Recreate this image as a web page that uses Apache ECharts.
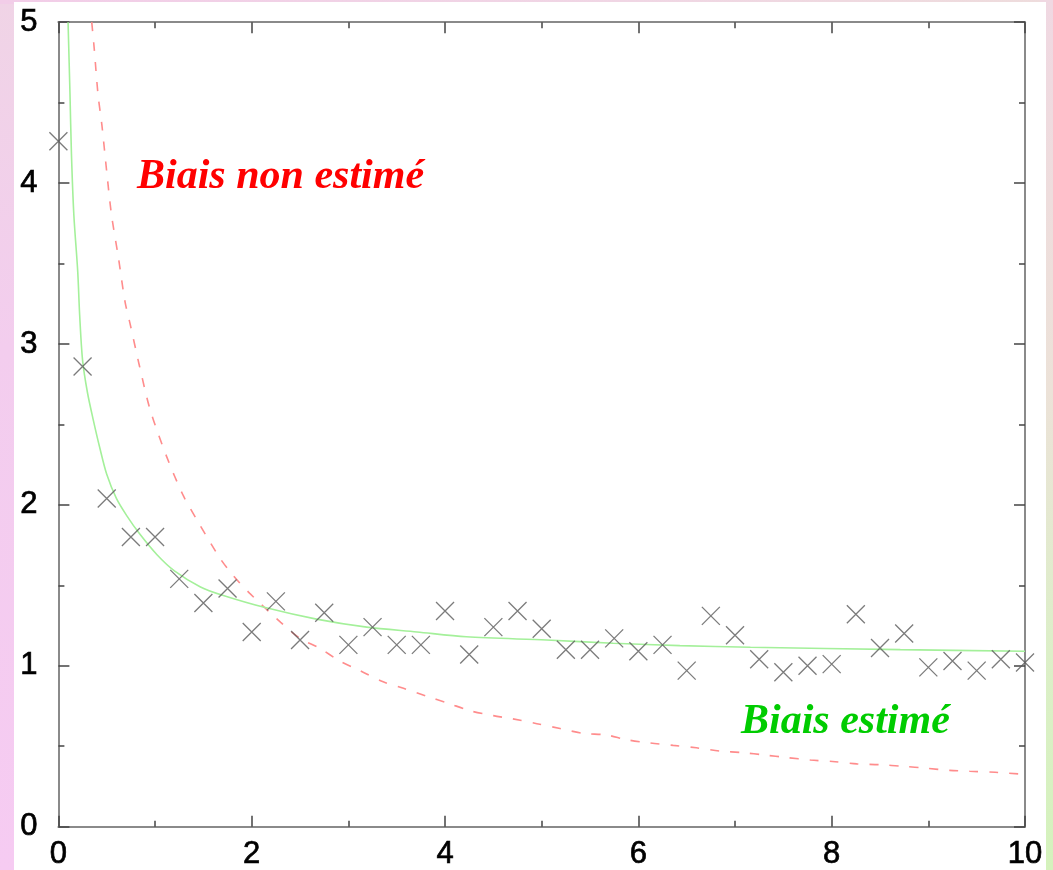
<!DOCTYPE html>
<html>
<head>
<meta charset="utf-8">
<script src="https://cdn.jsdelivr.net/npm/echarts@6/dist/echarts.min.js"></script>
<style>
html,body{margin:0;padding:0;width:1053px;height:870px;overflow:hidden;}
body{background:linear-gradient(180deg,#f0d4e6 0%,#f3cdee 40%,#f6cbf2 100%);position:relative;}
#rightstrip{position:absolute;left:1040px;top:0;width:13px;height:870px;background:linear-gradient(180deg,#f0d8e2 0%,#ece2d8 45%,#dcefc8 75%,#d4f2bc 100%);}
#topstrip{position:absolute;left:0;top:0;width:1053px;height:4px;background:linear-gradient(90deg,#f2cde8,#f0d6e4 60%,#eedcdc);}
#panel{position:absolute;left:14px;top:2px;width:1032px;height:868px;background:#fff;}
#chart{position:absolute;left:0;top:0;width:1053px;height:870px;}
</style>
</head>
<body>
<div id="topstrip"></div>
<div id="rightstrip"></div>
<div id="panel"></div>
<div id="chart"></div>
<script>
// tick labels
const xTicks = [0, 2, 4, 6, 8, 10];
const yTicks = [0, 1, 2, 3, 4, 5];

// measured points (crosses)
const pointsX = [0, 0.25, 0.5, 0.75, 1, 1.25, 1.5, 1.75, 2, 2.25, 2.5, 2.75, 3, 3.25, 3.5, 3.75, 4, 4.25, 4.5, 4.75, 5, 5.25, 5.5, 5.75, 6, 6.25, 6.5, 6.75, 7, 7.25, 7.5, 7.75, 8, 8.25, 8.5, 8.75, 9, 9.25, 9.5, 9.75, 10];
const pointsY = [4.26, 2.86, 2.04, 1.80, 1.80, 1.54, 1.39, 1.48, 1.21, 1.40, 1.16, 1.33, 1.13, 1.24, 1.13, 1.13, 1.34, 1.07, 1.24, 1.34, 1.23, 1.10, 1.10, 1.17, 1.09, 1.13, 0.97, 1.31, 1.19, 1.04, 0.96, 1.00, 1.01, 1.32, 1.11, 1.20, 0.99, 1.03, 0.97, 1.04, 1.02];

// "Biais estimé" curve (green, solid)
const greenX = [0.10, 0.12, 0.135, 0.16, 0.20, 0.22, 0.25, 0.30, 0.36, 0.43, 0.50, 0.60, 0.71, 0.84, 1.02, 1.20, 1.47, 1.69, 2.15, 2.67, 3.19, 3.71, 4.22, 5.05, 5.74, 6.43, 7.16, 8.71, 10];
const greenY = [5.00, 4.55, 4.18, 3.80, 3.45, 3.18, 2.90, 2.70, 2.53, 2.35, 2.19, 2.04, 1.93, 1.82, 1.69, 1.59, 1.49, 1.44, 1.36, 1.29, 1.24, 1.21, 1.18, 1.16, 1.14, 1.125, 1.115, 1.10, 1.09];

// "Biais non estimé" curve (red, dashed)
const redX = [0.345, 0.37, 0.41, 0.45, 0.50, 0.55, 0.62, 0.69, 0.74, 0.84, 0.95, 1.12, 1.29, 1.43, 1.67, 1.81, 1.98, 2.30, 2.50, 2.70, 2.91, 3.12, 3.36, 3.57, 3.81, 4.02, 4.26, 4.50, 4.70, 4.95, 5.19, 5.43, 5.67, 5.88, 6.12, 6.36, 6.60, 6.84, 7.08, 7.31, 7.53, 7.78, 8.01, 8.26, 8.50, 8.74, 8.98, 9.22, 9.43, 9.69, 10];
const redY = [5.00, 4.84, 4.55, 4.36, 4.07, 3.80, 3.54, 3.26, 3.13, 2.86, 2.59, 2.30, 2.06, 1.91, 1.67, 1.56, 1.45, 1.27, 1.17, 1.11, 1.03, 0.97, 0.90, 0.86, 0.81, 0.77, 0.72, 0.69, 0.67, 0.64, 0.61, 0.58, 0.57, 0.54, 0.52, 0.505, 0.49, 0.47, 0.46, 0.445, 0.43, 0.414, 0.405, 0.39, 0.385, 0.375, 0.363, 0.35, 0.344, 0.338, 0.325];

const labelRed = 'Biais non estimé';
const labelGreen = 'Biais estimé';

const zip = (a, b) => a.map((v, i) => [v, b[i]]);

const chart = echarts.init(document.getElementById('chart'), null, {renderer: 'canvas'});

const axisCommon = {
  type: 'value',
  axisLine: {show: true, onZero: false, lineStyle: {color: '#8a8a8a', width: 2}},
  axisTick: {show: true, inside: true, length: 11, lineStyle: {color: '#444', width: 1.5}},
  minorTick: {show: true, splitNumber: 2, length: 6, lineStyle: {color: '#444', width: 1.5}},
  splitLine: {show: false},
  minorSplitLine: {show: false}
};
const labelFont = {color: '#000', fontFamily: 'Liberation Sans', fontSize: 31, textBorderColor: '#000', textBorderWidth: 0.7};

chart.setOption({
  animation: false,
  grid: {left: 58.4, right: 28, top: 22.2, bottom: 41.5, containLabel: false},
  xAxis: [
    Object.assign({}, axisCommon, {min: 0, max: 10, interval: 2, position: 'bottom',
      axisLabel: Object.assign({show: true, margin: 12, formatter: v => xTicks.includes(v) ? String(v) : ''}, labelFont)}),
    Object.assign({}, axisCommon, {min: 0, max: 10, interval: 2, position: 'top', axisLabel: {show: false}})
  ],
  yAxis: [
    Object.assign({}, axisCommon, {min: 0, max: 5, interval: 1, position: 'left',
      axisLabel: Object.assign({show: true, margin: 21, formatter: v => yTicks.includes(v) ? String(v) : ''}, labelFont)}),
    Object.assign({}, axisCommon, {min: 0, max: 5, interval: 1, position: 'right', axisLabel: {show: false}})
  ],
  series: [
    {
      type: 'line', name: labelRed, data: zip(redX, redY), smooth: 0.3, symbol: 'none',
      lineStyle: {color: '#ff8c8c', width: 1.6, type: [9, 11]}, z: 2
    },
    {
      type: 'line', name: labelGreen, data: zip(greenX, greenY), smooth: 0.3, symbol: 'none',
      lineStyle: {color: '#a4f09a', width: 1.6}, z: 2
    },
    {
      type: 'scatter', data: zip(pointsX, pointsY), clip: false,
      symbol: 'path://M0,0L10,10M10,0L0,10', symbolSize: 18,
      itemStyle: {color: 'rgba(0,0,0,0)', borderColor: '#5a5a5a', borderWidth: 1.3}, z: 3
    }
  ],
  graphic: [
    {type: 'text', left: 137, top: 156, z: 10, style: {text: labelRed, fill: '#ff0000', font: 'italic bold 42px "Liberation Serif"'}},
    {type: 'text', left: 741, top: 701, z: 10, style: {text: labelGreen, fill: '#00cc00', font: 'italic bold 42px "Liberation Serif"'}}
  ]
});
</script>
</body>
</html>
